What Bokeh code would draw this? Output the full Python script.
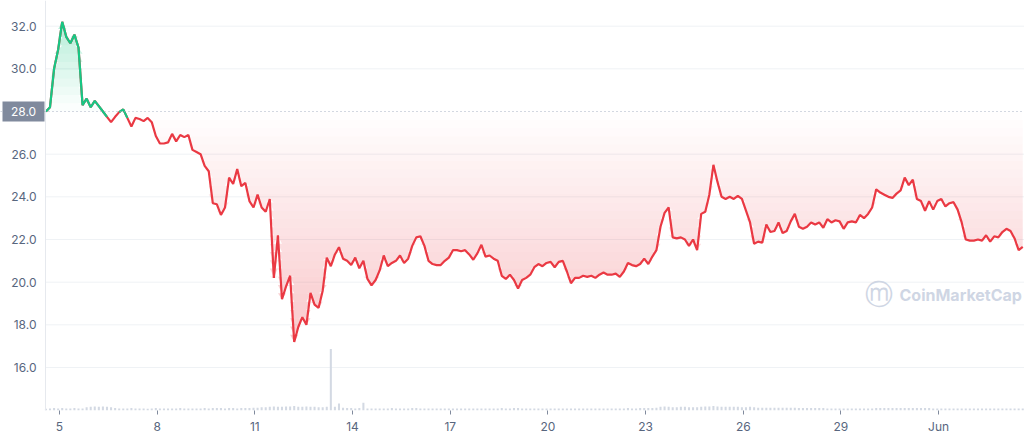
import numpy as np
import pandas as pd
from bokeh.plotting import figure
from bokeh.models import Range1d, FixedTicker, Span, Label
from bokeh.core.properties import value
from bokeh.embed import file_html
from bokeh.resources import INLINE

# ---------------- data ----------------
start_time = "2022-05-04 14:00"
step = "3h"
base_price = 28.0

price = [
    28.0, 28.2, 30.0, 30.9, 32.2, 31.5, 31.2, 31.6, 31.0, 28.3,
    28.6, 28.2, 28.5, 28.25, 28.0, 27.75, 27.5, 27.75, 27.97, 28.1,
    27.7, 27.3, 27.7, 27.65, 27.55, 27.7, 27.5, 26.85, 26.5, 26.5,
    26.55, 26.95, 26.6, 26.9, 26.8, 26.9, 26.2, 26.1, 26.0, 25.45,
    25.2, 23.7, 23.65, 23.15, 23.5, 24.9, 24.6, 25.3, 24.5, 24.65,
    23.8, 23.5, 24.1, 23.5, 23.3, 23.9, 20.2, 22.2, 19.2, 19.8,
    20.3, 17.2, 17.9, 18.36, 18.0, 19.5, 18.95, 18.8, 19.6, 21.15,
    20.75, 21.3, 21.64, 21.1, 21.0, 20.8, 21.15, 20.65, 21.0, 20.15,
    19.85, 20.1, 20.55, 21.25, 20.75, 20.9, 21.0, 21.25, 20.9, 21.1,
    21.7, 22.1, 22.15, 21.7, 21.0, 20.85, 20.8, 20.8, 21.0, 21.15,
    21.5, 21.5, 21.45, 21.5, 21.3, 21.05, 21.35, 21.75, 21.2, 21.25,
    21.1, 21.0, 20.3, 20.15, 20.35, 20.1, 19.7, 20.1, 20.2, 20.35,
    20.7, 20.85, 20.75, 20.9, 20.95, 20.7, 20.95, 21.0, 20.5, 19.95,
    20.2, 20.2, 20.3, 20.25, 20.3, 20.2, 20.35, 20.45, 20.35, 20.35,
    20.4, 20.25, 20.5, 20.9, 20.8, 20.75, 20.85, 21.1, 20.85, 21.2,
    21.5, 22.6, 23.25, 23.5, 22.1, 22.05, 22.1, 22.0, 21.7, 22.0,
    21.5, 23.2, 23.3, 24.1, 25.5, 24.7, 24.0, 23.9, 24.0, 23.9,
    24.05, 23.9, 23.35, 22.8, 21.8, 21.9, 21.85, 22.7, 22.35, 22.4,
    22.8, 22.3, 22.4, 22.85, 23.2, 22.6, 22.5, 22.6, 22.8, 22.7,
    22.8, 22.55, 22.95, 22.8, 22.9, 22.85, 22.5, 22.8, 22.85, 22.8,
    23.15, 23.0, 23.2, 23.5, 24.35, 24.2, 24.1, 24.0, 23.95, 24.15,
    24.3, 24.9, 24.55, 24.8, 23.9, 23.8, 23.35, 23.8, 23.4, 23.8,
    23.9, 23.55, 23.7, 23.75, 23.4, 22.8, 22.0, 21.95, 21.95, 22.0,
    21.95, 22.2, 21.9, 22.15, 22.1, 22.35, 22.5, 22.4, 22.05, 21.5,
    21.65,
]

volume = [
    0.4, 0.5, 0.6, 0.5, 0.6, 0.5, 0.5, 0.6, 0.5, 0.5,
    0.8, 0.9, 1.0, 0.9, 1.0, 0.9, 0.8, 0.6, 0.5, 0.5,
    0.5, 0.6, 0.5, 0.5, 0.5, 0.4, 0.5, 0.6, 0.5, 0.5,
    0.5, 0.5, 0.5, 0.6, 0.5, 0.5, 0.5, 0.5, 0.5, 0.6,
    0.5, 0.6, 0.6, 0.6, 0.5, 0.6, 0.6, 0.5, 0.6, 0.6,
    0.6, 0.7, 0.7, 0.8, 0.8, 0.9, 1.0, 0.9, 0.9, 1.0,
    1.0, 1.1, 0.9, 0.9, 1.0, 0.9, 0.9, 0.8, 0.8, 0.9,
    15.0, 0.9, 1.7, 0.7, 0.6, 0.6, 0.5, 0.6, 1.9, 0.5,
    0.5, 0.5, 0.5, 0.5, 0.5, 0.6, 0.5, 0.5, 0.5, 0.5,
    0.6, 0.6, 0.5, 0.5, 0.5, 0.5, 0.5, 0.5, 0.5, 0.5,
    0.5, 0.5, 0.5, 0.5, 0.5, 0.5, 0.5, 0.5, 0.5, 0.5,
    0.5, 0.5, 0.6, 0.5, 0.5, 0.6, 0.6, 0.5, 0.5, 0.5,
    0.5, 0.5, 0.5, 0.5, 0.5, 0.5, 0.5, 0.5, 0.5, 0.5,
    0.5, 0.5, 0.5, 0.5, 0.5, 0.5, 0.5, 0.5, 0.5, 0.5,
    0.5, 0.5, 0.5, 0.6, 0.5, 0.5, 0.6, 0.6, 0.6, 0.6,
    0.7, 0.9, 1.0, 0.9, 0.8, 0.8, 0.9, 0.9, 0.8, 0.8,
    0.8, 0.9, 1.0, 1.0, 1.1, 1.0, 0.9, 0.9, 0.9, 0.9,
    0.9, 0.8, 0.8, 0.9, 0.8, 0.7, 0.7, 0.7, 0.7, 0.7,
    0.7, 0.7, 0.7, 0.7, 0.7, 0.6, 0.6, 0.6, 0.6, 0.6,
    0.6, 0.6, 0.5, 0.5, 0.5, 0.5, 0.5, 0.5, 0.5, 0.5,
    0.5, 0.5, 0.5, 0.5, 0.6, 0.6, 0.6, 0.6, 0.6, 0.6,
    0.6, 0.6, 0.6, 0.6, 0.6, 0.6, 0.6, 0.6, 0.5, 0.5,
    0.5, 0.5, 0.5, 0.5, 0.5, 0.5, 0.5, 0.5, 0.5, 0.5,
    0.5, 0.5, 0.5, 0.5, 0.5, 0.5, 0.5, 0.5, 0.5, 0.5,
    0.5,
]

x_tick_dates = ["2022-05-05", "2022-05-08", "2022-05-11", "2022-05-14", "2022-05-17",
                "2022-05-20", "2022-05-23", "2022-05-26", "2022-05-29", "2022-06-01"]
x_tick_labels = ["5", "8", "11", "14", "17", "20", "23", "26", "29", "Jun"]
y_ticks = [16, 18, 20, 22, 24, 26, 30, 32]
y_tick_labels = ["16.0", "18.0", "20.0", "22.0", "24.0", "26.0", "30.0", "32.0"]
base_label = "28.0"

assert len(price) == len(volume)

# ---------------- styling / layout ----------------
GREEN = "#16c784"
RED = "#ea3943"
AXIS_TXT = "#58667e"
FONT = "Inter"
W, H = 1024, 440
BOTTOM = 30                       # px below the plotting frame for the date axis
PX_PER_DAY = 32.56
ANCHOR = pd.Timestamp(x_tick_dates[0])
ANCHOR_PX = 59.0


def time_at(px):
    """time shown at a horizontal pixel of the frame (layout helper)"""
    return ANCHOR + pd.Timedelta(days=(px - ANCHOR_PX) / PX_PER_DAY)


PX_PER_UNIT = 21.333
BASE_PX = 111.0
y_top = base_price + BASE_PX / PX_PER_UNIT
y_bot = base_price - ((H - BOTTOM) - BASE_PX) / PX_PER_UNIT

times = pd.date_range(start_time, periods=len(price), freq=step)
p_arr = np.array(price, dtype=float)

p = figure(width=W, height=H, x_axis_type="datetime",
           output_backend="svg", toolbar_location=None,
           x_range=Range1d(time_at(0), time_at(W)),
           y_range=Range1d(y_bot, y_top),
           min_border_left=0, min_border_right=0, min_border_top=0,
           min_border_bottom=BOTTOM)
p.outline_line_color = None
p.background_fill_color = "white"
p.border_fill_color = "white"
p.yaxis.visible = False
p.xgrid.grid_line_color = None
p.ygrid.grid_line_color = None

area_left = time_at(45)

# horizontal grid lines (from the tick list)
p.segment(x0=[area_left] * len(y_ticks), x1=[time_at(W)] * len(y_ticks),
          y0=y_ticks, y1=y_ticks, line_color="#eff2f5", line_width=1)
# left edge line of the plot area
p.add_layout(Span(location=area_left, dimension="height", line_color="#e6e9ee", line_width=1))

# volume (hidden scale)
p.extra_y_ranges = {"vol": Range1d(0, 100)}
p.vbar(x=times, top=volume, bottom=0, width=3 * 3600 * 1000 * 0.5,
       y_range_name="vol", fill_color="#d3d9e3", line_color=None)

# gradient fills built from horizontal bands
pmin, pmax = p_arr.min(), p_arr.max()
red_edges = np.linspace(base_price, pmin - 0.05, 29)
for b, a in zip(red_edges[:-1], red_edges[1:]):
    mid = 0.5 * (a + b)
    alpha = 0.28 * (base_price - mid) / (base_price - pmin)
    p.varea(x=times, y1=np.clip(p_arr, a, b), y2=np.full(len(p_arr), b),
            fill_color=RED, fill_alpha=alpha)
green_edges = np.linspace(base_price, pmax + 0.05, 12)
for a, b in zip(green_edges[:-1], green_edges[1:]):
    mid = 0.5 * (a + b)
    alpha = 0.32 * (mid - base_price) / (pmax - base_price)
    p.varea(x=times, y1=np.full(len(p_arr), a), y2=np.clip(p_arr, a, b),
            fill_color=GREEN, fill_alpha=alpha)

# price line: red everywhere, green where at/above the opening price
p.line(times, p_arr, line_color=RED, line_width=2.2)
above = p_arr >= base_price
near = above | np.r_[above[1:], False] | np.r_[False, above[:-1]]
green_y = np.where(near, p_arr, np.nan)
p.line(times, green_y, line_color=GREEN, line_width=2.2)

# opening price dotted line
p.add_layout(Span(location=base_price, dimension="width", line_color="#a6b0c3",
                  line_dash="1 3", line_width=1))

# y tick labels (left of the plot area)
p.text(x=[time_at(36)] * len(y_ticks), y=y_ticks, text=y_tick_labels,
       text_align="right", text_baseline="middle", text_color=AXIS_TXT,
       text_font=value(FONT), text_font_size="12px")

# opening price badge (box + text, drawn above the dotted line)
p.rect(x=[time_at(23)], y=[base_price], width=42, height=20,
       width_units="screen", height_units="screen",
       fill_color="#808a9d", line_color=None, level="overlay")
p.text(x=[time_at(23)], y=[base_price], text=[base_label],
       text_align="center", text_baseline="middle", text_color="white",
       text_font=value(FONT), text_font_size="12px", level="overlay")

# x axis
tick_ms = [pd.Timestamp(d).value / 1e6 for d in x_tick_dates]
p.xaxis.ticker = FixedTicker(ticks=tick_ms)
p.xaxis.major_label_overrides = {t: l for t, l in zip(tick_ms, x_tick_labels)}
p.xaxis.axis_line_color = None
p.xaxis.major_tick_line_color = "#808a9d"
p.xaxis.major_tick_out = 4
p.xaxis.major_tick_in = 0
p.xaxis.minor_tick_line_color = None
p.xaxis.major_label_standoff = 4
p.xaxis.major_label_text_color = AXIS_TXT
p.xaxis.major_label_text_font = FONT
p.xaxis.major_label_text_font_size = "12px"

# watermark
p.add_layout(Label(x=878, y=116, x_units="screen", y_units="screen", text="ⓜ",
                   text_align="center", text_baseline="middle", text_color="#cfd6e4",
                   text_font="DejaVu Sans", text_font_size="28px"))
p.add_layout(Label(x=899, y=116, x_units="screen", y_units="screen", text="CoinMarketCap",
                   text_align="left", text_baseline="middle", text_color="#cfd6e4",
                   text_font=FONT, text_font_size="16px", text_font_style="bold"))

open("out.html", "w").write(file_html(p, INLINE))
